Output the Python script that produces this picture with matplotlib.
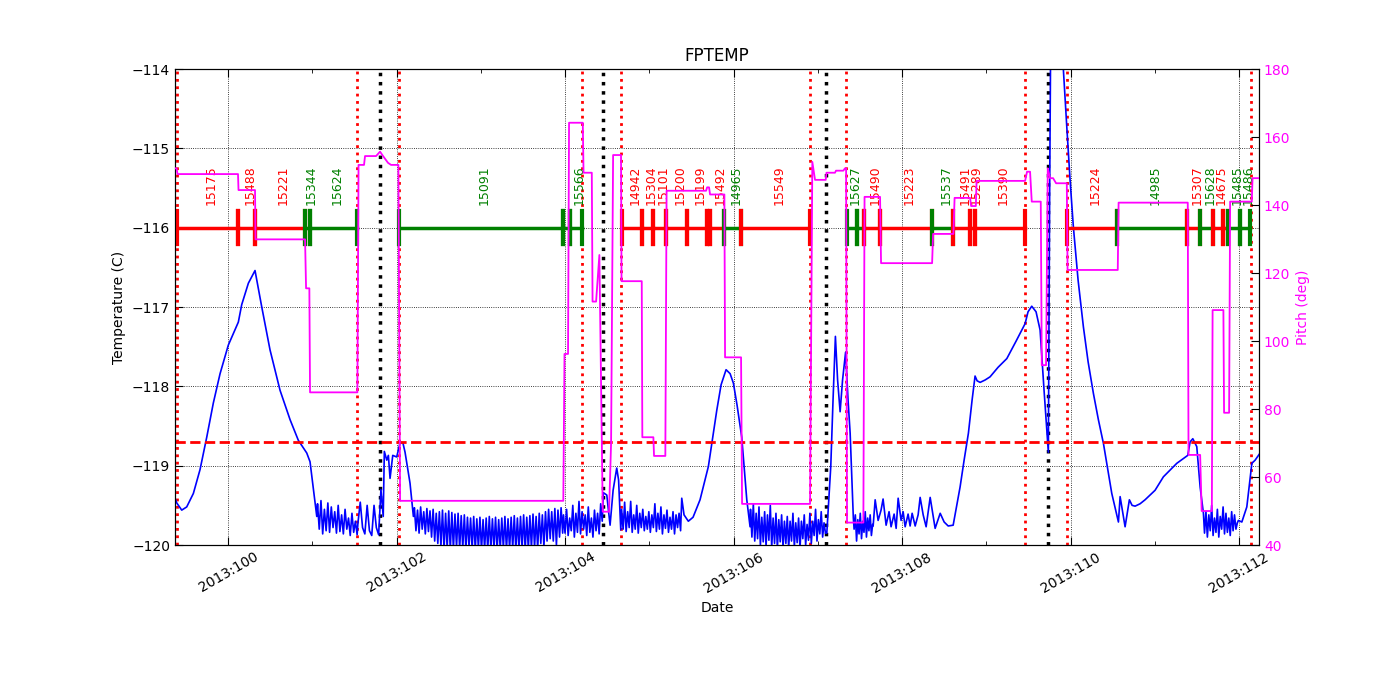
import numpy as np
import matplotlib
matplotlib.use('Agg')
import matplotlib.pyplot as plt
from matplotlib.ticker import FixedLocator, FixedFormatter

# %% data (day of year 2013)
x_min, x_max = 99.368, 112.237
temp_limit = -118.7

# obsid segments of the schedule
seg_start = [99.395, 100.116, 100.318, 100.912, 100.971, 102.028, 103.975, 104.058,
             104.675, 104.912, 105.043, 105.197, 105.446, 105.684, 105.720, 105.886,
             106.088, 107.346, 107.465, 107.548, 107.738, 108.355, 108.605, 108.806,
             108.866, 109.958, 110.552, 111.383, 111.537, 111.692, 111.811, 111.870,
             112.013]
seg_stop = [100.116, 100.318, 100.912, 100.971, 101.529, 103.975, 104.058, 104.200,
            104.912, 105.043, 105.197, 105.446, 105.684, 105.720, 105.886, 106.088,
            106.907, 107.465, 107.548, 107.738, 108.355, 108.605, 108.806, 108.866,
            109.460, 110.552, 111.383, 111.537, 111.692, 111.811, 111.870, 112.013,
            112.132]
seg_obsid = ['15175', '15488', '15221', '15344', '15624', '15091', '', '15566',
             '14942', '15304', '15101', '15200', '15199', '', '15492', '14965',
             '15549', '15627', '', '15490', '15223', '15537', '15491', '15289',
             '15390', '15224', '14985', '15307', '15628', '14675', '', '15485',
             '15486']
seg_color = ['r', 'r', 'r', 'g', 'g', 'g', 'g', 'g',
             'r', 'r', 'r', 'r', 'r', 'r', 'r', 'g',
             'r', 'g', 'g', 'r', 'r', 'g', 'r', 'r',
             'r', 'r', 'g', 'r', 'g', 'r', 'r', 'g',
             'g']

# load / safe mode markers
red_marks = [99.396, 101.533, 102.024, 104.197, 104.663, 106.907, 107.335, 109.460,
             109.955, 112.143]
black_marks = [101.802, 104.446, 107.094, 109.736]

# pitch (deg), step line
pitch_days = [99.368, 99.386, 99.398, 100.116, 100.122, 100.318, 100.324, 100.912,
              100.924, 100.963, 100.971, 101.533, 101.547, 101.612, 101.624, 101.755,
              101.802, 101.838, 101.897, 101.933, 102.020, 102.040, 103.978, 103.992,
              104.034, 104.046, 104.209, 104.218, 104.316, 104.325, 104.367, 104.406,
              104.446, 104.521, 104.545, 104.569, 104.663, 104.669, 104.909, 104.916,
              105.047, 105.055, 105.189, 105.204, 105.673, 105.685, 105.708, 105.720,
              105.890, 105.898, 106.088, 106.100, 106.907, 106.934, 106.966, 107.093,
              107.102, 107.203, 107.215, 107.302, 107.322, 107.335, 107.346, 107.540,
              107.554, 107.738, 107.750, 108.356, 108.368, 108.609, 108.623, 108.807,
              108.819, 108.875, 108.884, 109.460, 109.483, 109.519, 109.539, 109.646,
              109.658, 109.709, 109.729, 109.756, 109.792, 109.828, 109.955, 109.964,
              110.560, 110.570, 111.391, 111.400, 111.538, 111.556, 111.677, 111.686,
              111.814, 111.822, 111.882, 111.894, 112.151, 112.160, 112.237]
pitch_vals = [150.8, 150.8, 149.1, 149.1, 144.4, 144.4, 129.9, 129.9,
              115.5, 115.5, 84.9, 84.9, 151.8, 151.8, 154.4, 154.4,
              155.7, 154.4, 152.4, 151.8, 151.8, 53.0, 53.0, 96.2,
              96.2, 164.2, 164.2, 149.5, 149.5, 111.6, 111.6, 125.3,
              49.8, 49.8, 70.0, 154.7, 154.7, 117.6, 117.6, 71.7,
              71.7, 66.2, 66.2, 144.2, 144.2, 145.2, 145.2, 143.1,
              143.1, 95.2, 95.2, 52.1, 52.1, 152.7, 147.4, 147.4,
              149.5, 149.5, 150.1, 150.1, 150.8, 150.8, 46.6, 46.6,
              142.4, 142.4, 122.9, 122.9, 131.5, 131.5, 142.1, 142.1,
              139.7, 139.7, 147.1, 147.1, 149.8, 149.8, 141.0, 141.0,
              92.9, 92.9, 150.8, 147.9, 147.9, 146.4, 146.4, 120.9,
              120.9, 140.7, 140.7, 66.5, 66.5, 50.0, 50.0, 109.1,
              109.1, 78.9, 78.9, 141.0, 141.0, 147.9, 147.9]

# FPTEMP, smooth parts as (day, temp) and noisy parts as evenly sampled values
temp_a = [(99.368, -119.41), (99.389, -119.47), (99.448, -119.56), (99.507, -119.52),
          (99.586, -119.35), (99.665, -119.05), (99.745, -118.64), (99.823, -118.21),
          (99.903, -117.84), (100.001, -117.48), (100.120, -117.19), (100.160, -116.97),
          (100.239, -116.70), (100.318, -116.54), (100.398, -117.00), (100.496, -117.54),
          (100.615, -118.05), (100.734, -118.42), (100.832, -118.68), (100.932, -118.84),
          (100.971, -118.95), (101.051, -119.64)]
noise_b = (101.06, 101.53, [-119.48, -119.80, -119.44, -119.86, -119.55, -119.82, -119.47, -119.84,
                            -119.52, -119.78, -119.58, -119.85, -119.50, -119.83, -119.62, -119.86,
                            -119.55, -119.80, -119.66, -119.88, -119.60, -119.84, -119.70, -119.87])
noise_c = (101.54, 101.84, [-119.72, -119.46, -119.78, -119.86, -119.50, -119.82, -119.88, -119.50,
                            -119.78, -119.87, -119.30, -119.64])
temp_d = [(101.853, -118.82), (101.882, -118.93), (101.901, -118.87), (101.921, -119.16),
          (101.953, -118.87), (102.000, -118.89), (102.040, -118.71), (102.073, -118.71),
          (102.099, -118.83), (102.158, -119.22), (102.198, -119.64)]
noise_e = (102.21, 103.97, [-119.53, -119.82, -119.56, -119.85, -119.52, -119.80, -119.58, -119.86,
                            -119.54, -119.83, -119.57, -119.90, -119.55, -119.95, -119.60, -119.98,
                            -119.58, -120.02, -119.56, -120.05, -119.60, -120.04, -119.57, -120.06,
                            -119.59, -120.05, -119.61, -120.03, -119.60, -120.05, -119.63, -120.04,
                            -119.62, -120.06, -119.65, -120.02, -119.66, -120.05, -119.64, -120.06,
                            -119.67, -120.04, -119.65, -120.06, -119.68, -120.05, -119.66, -120.06,
                            -119.64, -120.05, -119.67, -120.04, -119.65, -120.06, -119.68, -120.05,
                            -119.66, -120.04, -119.64, -120.06, -119.67, -120.05, -119.65, -120.04,
                            -119.63, -120.06, -119.66, -120.05, -119.64, -120.04, -119.62, -120.06,
                            -119.65, -120.05, -119.63, -120.04, -119.61, -120.03, -119.64, -120.05,
                            -119.60, -119.98, -119.62, -120.02, -119.58, -119.95, -119.55, -119.92,
                            -119.58, -119.95, -119.54, -120.00, -119.56, -119.90, -119.53, -119.85])
noise_f = (103.98, 104.44, [-119.62, -119.85, -119.55, -119.88, -119.66, -119.82, -119.50, -119.90,
                            -119.60, -119.84, -119.45, -119.86, -119.58, -119.80, -119.62, -119.88,
                            -119.52, -119.84, -119.66, -119.90, -119.56, -119.82, -119.60, -119.86,
                            -119.48, -119.70])
temp_g = [(104.453, -119.34), (104.494, -119.37), (104.533, -119.75), (104.569, -119.31),
          (104.612, -119.03), (104.634, -119.18), (104.660, -119.81)]
noise_h = (104.67, 105.37, [-119.55, -119.80, -119.46, -119.83, -119.58, -119.78, -119.45, -119.84,
                            -119.62, -119.80, -119.50, -119.85, -119.60, -119.78, -119.55, -119.82,
                            -119.64, -119.80, -119.58, -119.84, -119.62, -119.78, -119.48, -119.83,
                            -119.60, -119.80, -119.52, -119.86, -119.62, -119.79, -119.56, -119.84,
                            -119.65, -119.80, -119.58, -119.86, -119.62, -119.78, -119.60, -119.82])
temp_i = [(105.384, -119.41), (105.411, -119.62), (105.462, -119.70), (105.518, -119.65),
          (105.601, -119.43), (105.700, -119.01), (105.800, -118.30), (105.851, -117.98),
          (105.910, -117.79), (105.958, -117.84), (105.997, -117.96), (106.041, -118.24),
          (106.096, -118.64), (106.156, -119.43), (106.195, -119.77)]
noise_j = (106.20, 107.09, [-119.55, -119.90, -119.48, -119.95, -119.60, -119.92, -119.52, -120.00,
                            -119.65, -119.96, -119.58, -120.02, -119.62, -119.94, -119.50, -120.03,
                            -119.66, -119.98, -119.60, -120.04, -119.68, -119.96, -119.62, -120.03,
                            -119.70, -119.98, -119.64, -120.04, -119.70, -119.95, -119.60, -120.02,
                            -119.72, -119.97, -119.66, -120.04, -119.70, -119.92, -119.62, -120.00,
                            -119.74, -119.94, -119.60, -119.98, -119.70, -119.88, -119.55, -119.95,
                            -119.68, -119.86, -119.58, -119.90, -119.72, -119.85])
temp_k = [(107.106, -119.85), (107.153, -119.01), (107.180, -118.17), (107.208, -117.37),
          (107.234, -117.92), (107.264, -118.32), (107.293, -117.92), (107.329, -117.57),
          (107.358, -118.17), (107.383, -118.59), (107.421, -119.66)]
noise_l = (107.43, 107.65, [-119.80, -119.62, -119.95, -119.68, -119.86, -119.60, -119.92, -119.70,
                            -119.84, -119.58, -119.90, -119.66, -119.82, -119.62, -119.88, -119.74])
temp_m = [(107.656, -119.76), (107.680, -119.43), (107.715, -119.69), (107.750, -119.56),
          (107.774, -119.42), (107.810, -119.75), (107.845, -119.58), (107.869, -119.77),
          (107.905, -119.61), (107.929, -119.79), (107.953, -119.41), (107.988, -119.69),
          (108.012, -119.58), (108.036, -119.77), (108.071, -119.61), (108.095, -119.76),
          (108.119, -119.60), (108.155, -119.76), (108.190, -119.62), (108.214, -119.40),
          (108.250, -119.62), (108.285, -119.77), (108.333, -119.40), (108.392, -119.79),
          (108.452, -119.60), (108.499, -119.71), (108.547, -119.76), (108.606, -119.75)]
temp_n = [(108.688, -119.27), (108.736, -118.93), (108.787, -118.59), (108.831, -118.17),
          (108.866, -117.87), (108.890, -117.93), (108.926, -117.95), (108.985, -117.92),
          (109.044, -117.88), (109.139, -117.76), (109.243, -117.65), (109.353, -117.43),
          (109.460, -117.21), (109.495, -117.06), (109.539, -116.99), (109.590, -117.06),
          (109.638, -117.29), (109.685, -118.05), (109.736, -118.83), (109.751, -115.65),
          (109.762, -113.89), (109.828, -113.13), (109.914, -114.00), (109.955, -114.73),
          (109.994, -115.40), (110.033, -115.99), (110.089, -116.66), (110.152, -117.25),
          (110.208, -117.69), (110.271, -118.09), (110.330, -118.42), (110.390, -118.72),
          (110.489, -119.35), (110.568, -119.71), (110.588, -119.39), (110.647, -119.77),
          (110.698, -119.43), (110.730, -119.50), (110.766, -119.51), (110.825, -119.48),
          (110.884, -119.43), (111.003, -119.31), (111.102, -119.14), (111.261, -118.97),
          (111.391, -118.87), (111.419, -118.70), (111.451, -118.66), (111.498, -118.76),
          (111.538, -119.27), (111.577, -119.60)]
noise_o = (111.59, 111.98, [-119.85, -119.58, -119.90, -119.62, -119.82, -119.50, -119.88, -119.66,
                            -119.84, -119.55, -119.90, -119.64, -119.80, -119.52, -119.86, -119.60,
                            -119.84, -119.66, -119.88, -119.58, -119.82, -119.62, -119.80, -119.72])
temp_p = [(111.992, -119.69), (112.033, -119.71), (112.092, -119.52), (112.152, -118.97),
          (112.191, -118.93), (112.250, -118.84)]

x_ticks = [100, 102, 104, 106, 108, 110, 112]
x_ticklabels = ['2013:100', '2013:102', '2013:104', '2013:106', '2013:108', '2013:110', '2013:112']
x_minor = [99, 101, 103, 105, 107, 109, 111]

# %% assemble temperature trace
temp_days = []
temp_vals = []
for piece in [temp_a, noise_b, noise_c, temp_d, noise_e, noise_f, temp_g, noise_h,
              temp_i, noise_j, temp_k, noise_l, temp_m, temp_n, noise_o, temp_p]:
    if isinstance(piece, tuple):
        t0, t1, vals = piece
        temp_days.extend(np.linspace(t0, t1, len(vals)))
        temp_vals.extend(vals)
    else:
        temp_days.extend([p[0] for p in piece])
        temp_vals.extend([p[1] for p in piece])

# %% plot
fig = plt.figure(figsize=(14, 7), dpi=100)
ax1 = fig.add_subplot(111)
fig.subplots_adjust(left=0.125, right=0.8993, bottom=0.2214, top=0.9014)

ax1.plot(temp_days, temp_vals, color='b', lw=1.2, zorder=3)
ax1.axhline(temp_limit, color='r', ls='--', lw=2, zorder=4)
for d in red_marks:
    ax1.axvline(d, color='r', ls=':', lw=2, zorder=2)
for d in black_marks:
    ax1.axvline(d, color='k', ls=':', lw=2.5, zorder=2)

# schedule bar at -116
for s, e, lab, c in zip(seg_start, seg_stop, seg_obsid, seg_color):
    ax1.plot([s, e], [-116, -116], color=c, lw=2.5, zorder=5)
    ax1.plot([s, s], [-115.79, -116.21], color=c, lw=3, zorder=5)
    ax1.plot([e, e], [-115.79, -116.21], color=c, lw=3, zorder=5)
    if lab:
        ax1.text((s + e) / 2 + 0.04, -115.71, lab, color=c, rotation=90,
                 ha='center', va='bottom', fontsize=9)

ax1.set_xlim(x_min, x_max)
ax1.set_ylim(-120, -114)
ax1.xaxis.set_major_locator(FixedLocator(x_ticks))
ax1.xaxis.set_major_formatter(FixedFormatter(x_ticklabels))
ax1.xaxis.set_minor_locator(FixedLocator(x_minor))
ax1.grid(True, color='k', ls=':', lw=0.6)
ax1.tick_params(which='both', direction='in', top=True)
ax1.tick_params(which='major', length=6)
ax1.tick_params(which='minor', length=3)
for lbl in ax1.get_xticklabels():
    lbl.set_rotation(30)
    lbl.set_ha('center')
ax1.set_xlabel('Date')
ax1.set_ylabel('Temperature (C)')
ax1.set_title('FPTEMP', fontsize=12)

ax2 = ax1.twinx()
ax2.plot(pitch_days, pitch_vals, color='magenta', lw=1.3, zorder=3)
ax2.set_ylim(40, 180)
ax2.set_xlim(x_min, x_max)
ax2.tick_params(direction='in', length=6, labelcolor='magenta')
ax2.set_ylabel('Pitch (deg)', color='magenta')

fig.savefig('out.png', dpi=100)
